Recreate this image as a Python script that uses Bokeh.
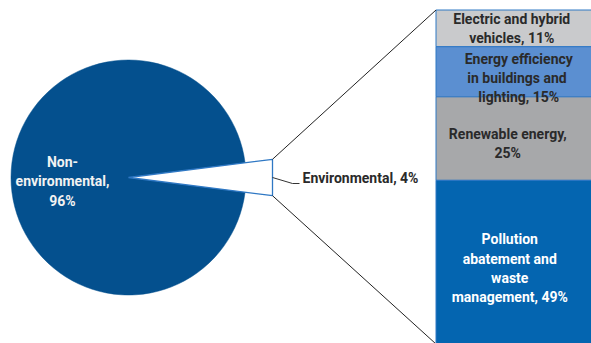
import numpy as np
from bokeh.plotting import figure
from bokeh.models import Range1d
from bokeh.core.properties import value
from bokeh.embed import file_html
from bokeh.resources import INLINE

# ---------------- data ----------------
pie_categories = ["Non-environmental", "Environmental"]
pie_shares = [96, 4]
pie_labels = ["Non-\nenvironmental,\n96%", "Environmental, 4%"]

bar_categories = ["Electric and hybrid vehicles",
                  "Energy efficiency in buildings and lighting",
                  "Renewable energy",
                  "Pollution abatement and waste management"]
bar_shares = [11, 15, 25, 49]
bar_labels = ["Electric and hybrid\nvehicles, 11%",
              "Energy efficiency\nin  buildings and\nlighting, 15%",
              "Renewable energy,\n25%",
              "Pollution\nabatement and\nwaste\nmanagement, 49%"]

# ---------------- layout / style ----------------
W, H = 591, 343
REF_H = 343
FONT = value("Roboto")
FS = "14px"
LH = 1.2

PIE_BLUE = "#04508e"
OUTLINE_BLUE = "#2f78c4"
bar_colors = ["#c9cacc", "#5b8fd1", "#a7a8aa", "#0465b0"]
bar_text_colors = ["#2a2a2a", "#2a2a2a", "#2a2a2a", "#ffffff"]
bar_label_dx = [-2, 5, -6, -4]
bar_label_dy = [0, -6, -5, -6]

cx, cy, r = 128.0, REF_H - 177.0, 117.5
explode_x = 144.0           # horizontal reach of the exploded slice
bar_left, bar_right = 435.5, 600.0
bar_top = REF_H - 9.5
bar_height = 334.0

p = figure(width=W, height=H, x_range=Range1d(0, W), y_range=Range1d(0, H),
           output_backend="svg", toolbar_location=None, min_border=0,
           outline_line_color=None, background_fill_color="white")
p.axis.visible = False
p.grid.visible = False

# ---------------- pie ----------------
total = float(sum(pie_shares))
env_angle = 2 * np.pi * pie_shares[1] / total
half = env_angle / 2
p.wedge(x=cx, y=cy, radius=r, start_angle=half, end_angle=2 * np.pi - half,
        direction="anticlock", fill_color=PIE_BLUE, line_color=PIE_BLUE, line_width=0.5)

R = explode_x / np.cos(half)
tx = cx + R * np.cos(half)
ty_top = cy + R * np.sin(half)
ty_bot = cy - R * np.sin(half)
p.patch(x=[cx, tx, tx], y=[cy, ty_top, ty_bot], fill_color="white",
        line_color=OUTLINE_BLUE, line_width=1.3)

# pie labels
p.text(x=[62], y=[REF_H - 181], text=[pie_labels[0]], text_align="center",
       text_baseline="middle", text_font=FONT, text_font_style="bold",
       text_font_size=FS, text_color="#f2f2f2", text_line_height=LH)

# leader for environmental label
lead_y = cy - 6
p.line(x=[tx, tx + 20, tx + 27], y=[cy, lead_y, lead_y], line_color="#333333", line_width=1)
p.text(x=[tx + 30], y=[cy - 0.5], text=[pie_labels[1]], text_align="left",
       text_baseline="middle", text_font=FONT, text_font_style="bold",
       text_font_size=FS, text_color="#2a2a2a")

# ---------------- stacked bar ----------------
shares = np.array(bar_shares, dtype=float)
frac = shares / shares.sum()
tops = bar_top - bar_height * np.concatenate([[0], np.cumsum(frac)[:-1]])
bottoms = bar_top - bar_height * np.cumsum(frac)
p.quad(left=bar_left, right=bar_right, top=tops, bottom=bottoms,
       fill_color=bar_colors, line_color=OUTLINE_BLUE, line_width=1)

# connector lines from exploded slice to bar
p.line(x=[tx, bar_left], y=[ty_top, tops[0]], line_color="#222222", line_width=1)
p.line(x=[tx, bar_left], y=[ty_bot, bottoms[-1]], line_color="#222222", line_width=1)

mid_x = (bar_left + 591) / 2
centers = (tops + bottoms) / 2
for lab, c, col, dx, dy in zip(bar_labels, centers, bar_text_colors, bar_label_dx, bar_label_dy):
    p.text(x=[mid_x + dx], y=[c + dy], text=[lab], text_align="center",
           text_baseline="middle", text_font=FONT, text_font_style="bold",
           text_font_size=FS, text_color=col, text_line_height=LH)

open("out.html", "w").write(file_html(p, INLINE))
